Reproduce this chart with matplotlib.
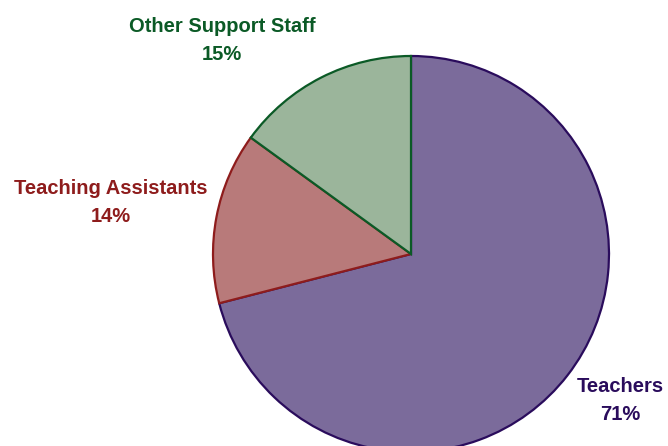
import matplotlib.pyplot as plt

labels = ['Teachers', 'Teaching Assistants', 'Other Support Staff']
shares = [71, 14, 15]
fills = ['#7b6b9b', '#b87a7a', '#9bb59b']
edges = ['#2a0c5c', '#8e1c1c', '#0b5a26']
text_colors = ['#2a0c5c', '#8e1c1c', '#0b5a26']
# label anchors in pixel space (x, y from top)
label_pos = [(620, 401), (111, 203), (222, 40)]

W, H = 668, 446
fig = plt.figure(figsize=(W / 100, H / 100), dpi=100)
ax = fig.add_axes([0, 0, 1, 1])

wedges, _ = ax.pie(shares, colors=fills, startangle=90, counterclock=False,
                   center=(411, H - 254), radius=198, frame=True)
for w, ec in zip(wedges, edges):
    w.set_edgecolor(ec)
    w.set_linewidth(1.6)
ax.set_xlim(0, W)
ax.set_ylim(0, H)
ax.set_aspect('equal')
ax.axis('off')

for name, pct, (x, y), c in zip(labels, shares, label_pos, text_colors):
    ax.text(x, H - y, f'{name}\n{pct}%', ha='center', va='center',
            color=c, fontsize=14.5, fontweight='bold', family='Liberation Sans',
            linespacing=1.6)

fig.savefig('out.png', dpi=100)
